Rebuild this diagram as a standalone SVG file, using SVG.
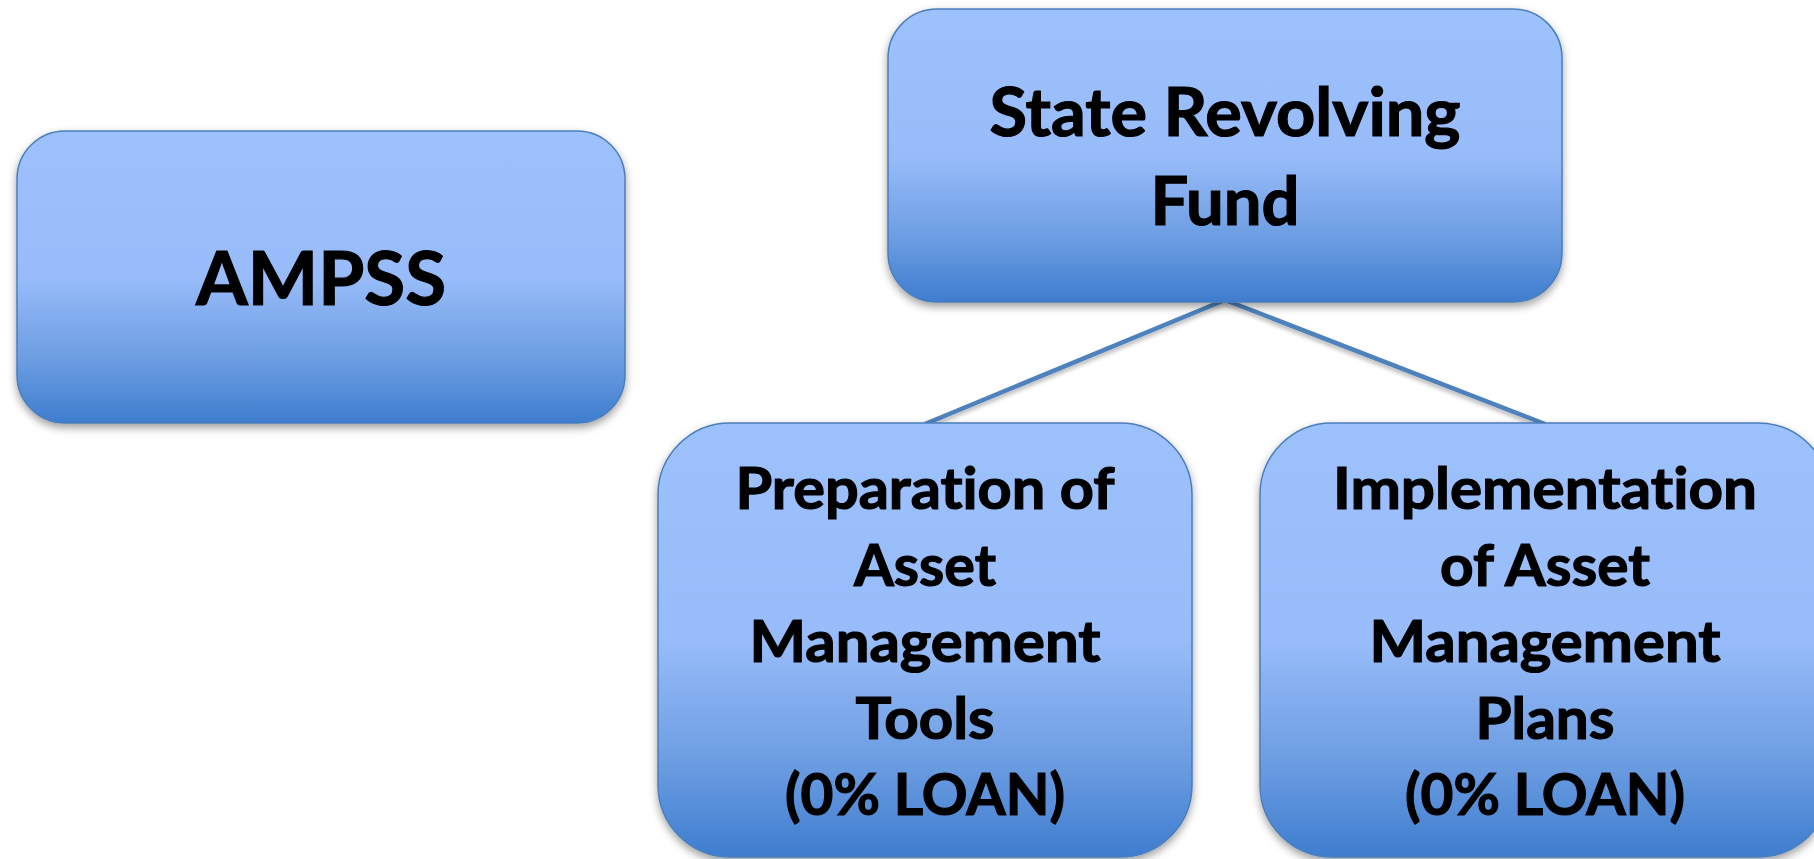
<svg xmlns="http://www.w3.org/2000/svg" width="1814" height="859" viewBox="0 0 1814 859">
  <defs>
    <linearGradient id="fillGrad" x1="0" y1="0" x2="0" y2="1">
      <stop offset="0" stop-color="#9DC1FD"/>
      <stop offset="0.5" stop-color="#98BCF9"/>
      <stop offset="0.78" stop-color="#6C9DE2"/>
      <stop offset="1" stop-color="#3F7DCF"/>
    </linearGradient>
    <filter id="shadow" x="-10%" y="-10%" width="120%" height="125%">
      <feDropShadow dx="0" dy="4" stdDeviation="4" flood-color="#000000" flood-opacity="0.38"/>
    </filter>
    <filter id="lineShadow" x="-10%" y="-20%" width="120%" height="150%">
      <feDropShadow dx="0" dy="3" stdDeviation="2" flood-color="#000000" flood-opacity="0.3"/>
    </filter>
  </defs>
  <style>
    .box { fill: url(#fillGrad); stroke: #4A7EBB; stroke-width: 1.5; filter: url(#shadow); }
    .lbl { font-family: Lato, "Open Sans", "Liberation Sans", sans-serif; font-weight: 700; fill: #000000; stroke: #000000; stroke-width: 1.2; text-anchor: middle; font-variant-ligatures: none; font-feature-settings: "liga" 0, "clig" 0; }
    .big { font-size: 75px; }
    .mid { font-size: 66px; }
    .sm { font-size: 57px; }
    .conn { stroke: #4F81BD; stroke-width: 4.5; fill: none; filter: url(#lineShadow); }
  </style>
  <rect width="1814" height="859" fill="#FFFFFF"/>

  <g id="connectors">
    <line class="conn" x1="1225" y1="300" x2="925" y2="424"/>
    <line class="conn" x1="1225" y1="300" x2="1545" y2="424"/>
  </g>

  <g id="node-ampss">
    <rect class="box" x="17" y="131" width="608" height="292" rx="48" ry="48"/>
    <text class="lbl big" x="321" y="305" textLength="250" lengthAdjust="spacingAndGlyphs">AMPSS</text>
  </g>

  <g id="node-srf">
    <rect class="box" x="888" y="9" width="674" height="293" rx="49" ry="49"/>
    <text class="lbl mid" x="1225" y="136" textLength="471" lengthAdjust="spacingAndGlyphs">State Revolving</text>
    <text class="lbl mid" x="1225" y="225" textLength="149" lengthAdjust="spacingAndGlyphs">Fund</text>
  </g>

  <g id="node-preparation">
    <rect class="box" x="658" y="423" width="534" height="434" rx="72" ry="72"/>
    <text class="lbl sm" x="925" y="509" textLength="379" lengthAdjust="spacingAndGlyphs">Preparation of</text>
    <text class="lbl sm" x="925" y="586" textLength="142" lengthAdjust="spacingAndGlyphs">Asset</text>
    <text class="lbl sm" x="925" y="662" textLength="351" lengthAdjust="spacingAndGlyphs">Management</text>
    <text class="lbl sm" x="925" y="739" textLength="139" lengthAdjust="spacingAndGlyphs">Tools</text>
    <text class="lbl sm" x="925" y="815" textLength="280" lengthAdjust="spacingAndGlyphs">(0% LOAN)</text>
  </g>

  <g id="node-implementation">
    <rect class="box" x="1260" y="423" width="570" height="434" rx="72" ry="72"/>
    <text class="lbl sm" x="1545" y="509" textLength="424" lengthAdjust="spacingAndGlyphs">Implementation</text>
    <text class="lbl sm" x="1545" y="586" textLength="210" lengthAdjust="spacingAndGlyphs">of Asset</text>
    <text class="lbl sm" x="1545" y="662" textLength="351" lengthAdjust="spacingAndGlyphs">Management</text>
    <text class="lbl sm" x="1545" y="739" textLength="139" lengthAdjust="spacingAndGlyphs">Plans</text>
    <text class="lbl sm" x="1545" y="815" textLength="280" lengthAdjust="spacingAndGlyphs">(0% LOAN)</text>
  </g>
</svg>
